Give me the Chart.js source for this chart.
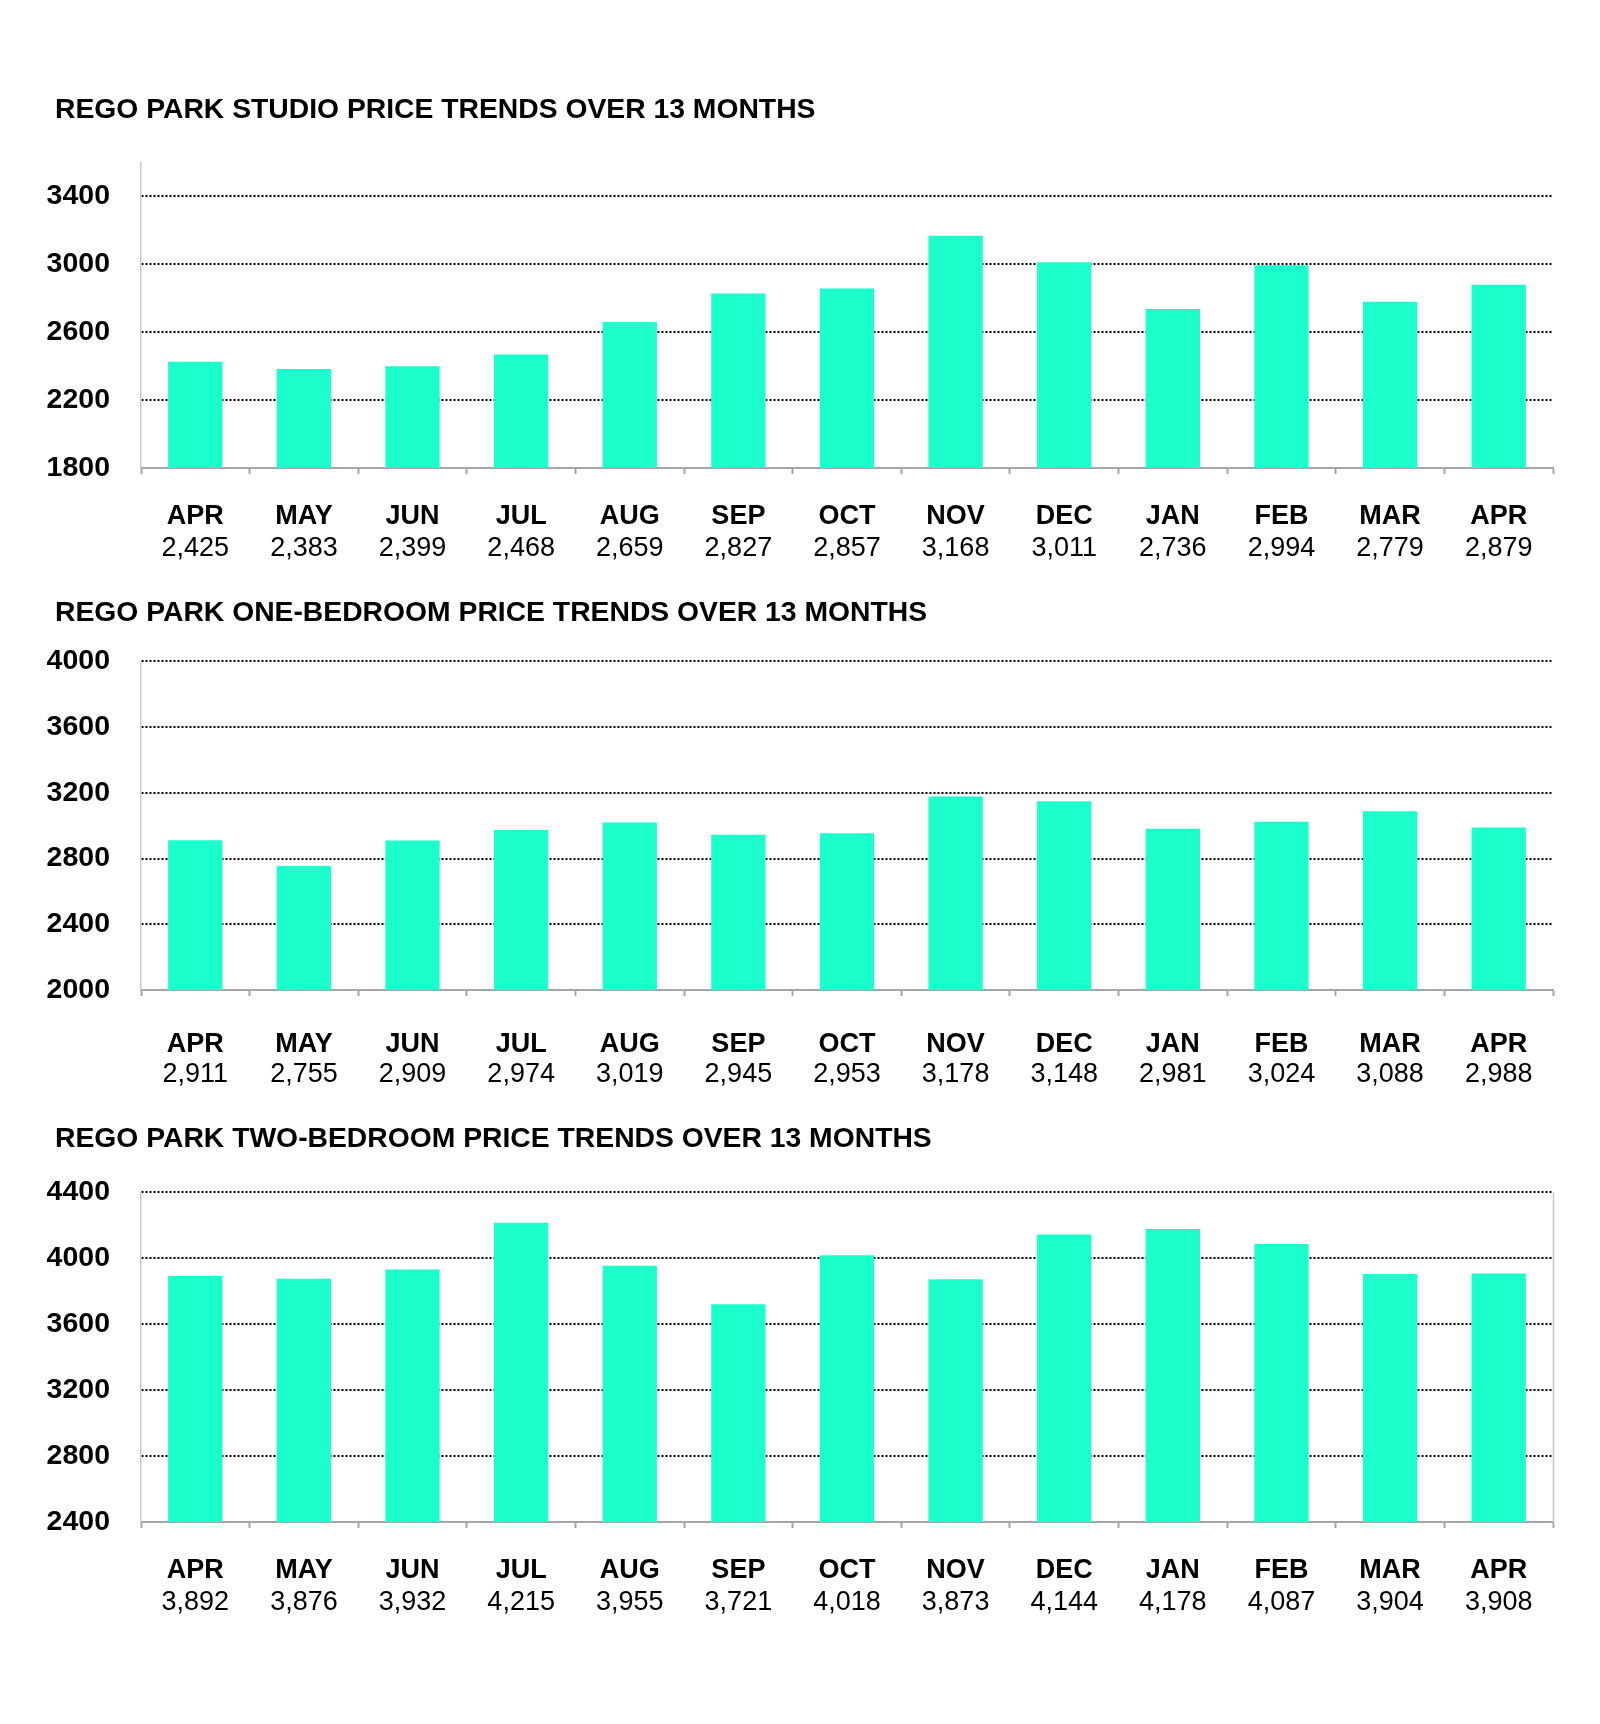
<!DOCTYPE html>
<html>
<head>
<meta charset="utf-8">
<script src="https://cdn.jsdelivr.net/npm/chart.js@4.4.1/dist/chart.umd.min.js"></script>
<style>
  html, body { margin: 0; padding: 0; background: #ffffff; }
  body { width: 1600px; height: 1724px; position: relative; overflow: hidden; }
  .wrap { position: absolute; left: 0; width: 1600px; }
  canvas { display: block; }
</style>
</head>
<body>
<div class="wrap" style="top:0px;height:580px"><canvas id="c1" width="1600" height="580"></canvas></div>
<div class="wrap" style="top:580px;height:520px"><canvas id="c2" width="1600" height="520"></canvas></div>
<div class="wrap" style="top:1100px;height:624px"><canvas id="c3" width="1600" height="624"></canvas></div>
<script>
// ---------- DATA ----------
const months = ['APR', 'MAY', 'JUN', 'JUL', 'AUG', 'SEP', 'OCT', 'NOV', 'DEC', 'JAN', 'FEB', 'MAR', 'APR'];

const studioTitle = 'REGO PARK STUDIO PRICE TRENDS OVER 13 MONTHS';
const studioValues = [2425, 2383, 2399, 2468, 2659, 2827, 2857, 3168, 3011, 2736, 2994, 2779, 2879];
const studioTicks = [1800, 2200, 2600, 3000, 3400];
const studioRange = [1800, 3600];

const oneBedTitle = 'REGO PARK ONE-BEDROOM PRICE TRENDS OVER 13 MONTHS';
const oneBedValues = [2911, 2755, 2909, 2974, 3019, 2945, 2953, 3178, 3148, 2981, 3024, 3088, 2988];
const oneBedTicks = [2000, 2400, 2800, 3200, 3600, 4000];
const oneBedRange = [2000, 4000];

const twoBedTitle = 'REGO PARK TWO-BEDROOM PRICE TRENDS OVER 13 MONTHS';
const twoBedValues = [3892, 3876, 3932, 4215, 3955, 3721, 4018, 3873, 4144, 4178, 4087, 3904, 3908];
const twoBedTicks = [2400, 2800, 3200, 3600, 4000, 4400];
const twoBedRange = [2400, 4400];

// ---------- STYLE ----------
const FONT = "'Liberation Sans', Arial, Helvetica, sans-serif";
const BAR_COLOR = '#1CFFCC';
const AXIS_GRAY = '#A6A6A6';
const LEFT_GRAY = '#C8C8C8';

const rightBorder = {
  id: 'rightBorder',
  afterDatasetsDraw(chart, args, opts) {
    if (!opts || !opts.display) return;
    const { ctx, chartArea: a } = chart;
    ctx.save();
    ctx.strokeStyle = opts.color;
    ctx.lineWidth = opts.width;
    ctx.beginPath();
    ctx.moveTo(a.right + 0.5, a.top);
    ctx.lineTo(a.right + 0.5, a.bottom);
    ctx.stroke();
    ctx.restore();
  }
};

// let the y tick labels extend left of the layout padding without being clipped
const unclipY = {
  id: 'unclipY',
  afterLayout(chart) { if (chart.scales.y) chart.scales.y.left = 0; }
};

function makeChart(id, cfg) {
  const valueLabels = cfg.values.map(v => v.toLocaleString('en-US'));
  return new Chart(document.getElementById(id), {
    type: 'bar',
    data: {
      labels: months,
      datasets: [{
        data: cfg.values,
        backgroundColor: BAR_COLOR,
        borderWidth: 0,
        barPercentage: 0.5,
        categoryPercentage: 1.0
      }]
    },
    plugins: [rightBorder, unclipY],
    options: {
      responsive: false,
      animation: false,
      devicePixelRatio: 1,
      layout: { padding: { left: 55, right: 47, top: 0, bottom: cfg.padBottom } },
      plugins: {
        legend: { display: false },
        tooltip: { enabled: false },
        title: {
          display: true,
          text: cfg.title,
          align: 'start',
          color: '#000',
          font: { family: FONT, size: 28.3, weight: 'bold', lineHeight: 1.0 },
          padding: { top: cfg.titleTop, bottom: cfg.titleBottom }
        },
        rightBorder: { display: !!cfg.rightBorder, color: LEFT_GRAY, width: 1.5 }
      },
      scales: {
        x: {
          type: 'category',
          position: 'bottom',
          weight: 0,
          offset: true,
          grid: {
            display: true,
            offset: true,
            drawOnChartArea: false,
            drawTicks: true,
            tickLength: 6,
            tickWidth: 2,
            tickColor: (c) => (cfg.hideLastTick && c.index >= months.length) ? 'rgba(0,0,0,0)' : AXIS_GRAY
          },
          border: { display: true, color: AXIS_GRAY, width: 2 },
          ticks: {
            autoSkip: false,
            maxRotation: 0,
            minRotation: 0,
            color: '#000',
            padding: cfg.monthPad,
            font: { family: FONT, size: 27, weight: 'bold', lineHeight: 1.0 }
          }
        },
        x2: {
          type: 'category',
          position: 'bottom',
          weight: 1,
          offset: true,
          labels: valueLabels,
          grid: { display: false, drawTicks: false },
          border: { display: false },
          ticks: {
            autoSkip: false,
            maxRotation: 0,
            minRotation: 0,
            mirror: true,
            color: '#000',
            padding: 0,
            font: { family: FONT, size: 27, weight: 'normal', lineHeight: cfg.valueLH }
          }
        },
        y: {
          type: 'linear',
          position: 'left',
          min: cfg.range[0],
          max: cfg.range[1],
          afterBuildTicks: (s) => { s.ticks = cfg.ticks.map(v => ({ value: v })); },
          afterFit: (s) => { s.width = 86; },
          grid: {
            drawTicks: false,
            lineWidth: 2,
            color: (c) => (c.tick && c.tick.value === cfg.range[0]) ? 'rgba(0,0,0,0)' : '#000'
          },
          border: { display: true, color: LEFT_GRAY, width: 1.5, dash: [2, 2] },
          ticks: {
            color: '#000',
            padding: 31,
            font: { family: FONT, size: 28.5, weight: 'bold', lineHeight: 1.0 },
            callback: (v) => String(v)
          }
        }
      }
    }
  });
}

makeChart('c1', {
  title: studioTitle, values: studioValues, ticks: studioTicks, range: studioRange,
  titleTop: 96, titleBottom: 38, monthPad: 29.5, valueLH: 22 / 27, padBottom: 20
});
makeChart('c2', {
  title: oneBedTitle, values: oneBedValues, ticks: oneBedTicks, range: oneBedRange,
  titleTop: 19, titleBottom: 34, monthPad: 35, valueLH: 36 / 27, padBottom: 7, hideLastTick: true
});
makeChart('c3', {
  title: twoBedTitle, values: twoBedValues, ticks: twoBedTicks, range: twoBedRange,
  titleTop: 25, titleBottom: 39, monthPad: 29.5, valueLH: 22 / 27, padBottom: 110, rightBorder: true
});
</script>
</body>
</html>
